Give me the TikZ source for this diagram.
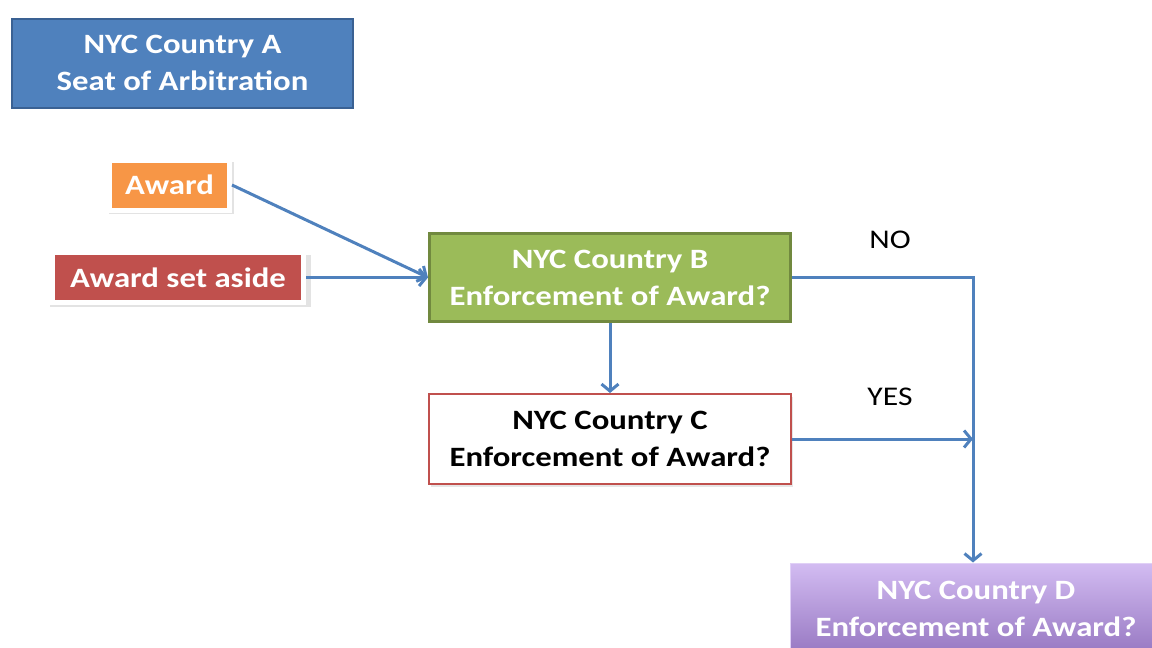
\documentclass[tikz,border=0pt]{standalone}
\usepackage{fontspec}
\setmainfont[FakeStretch=1.17]{Carlito}
\usetikzlibrary{arrows.meta,positioning,shadows}
\definecolor{seatblue}{HTML}{4F81BD}
\definecolor{seatrim}{HTML}{3A6193}
\definecolor{awardorange}{HTML}{F79646}
\definecolor{asidered}{HTML}{C0504D}
\definecolor{nycgreen}{HTML}{9BBB59}
\definecolor{greenrim}{HTML}{71893F}
\definecolor{purpletop}{HTML}{D3BCF2}
\definecolor{purplebot}{HTML}{9778C2}
\tikzset{
  box/.style    = {minimum width=364pt, minimum height=91pt, align=center,
                   font=\bfseries\fontsize{28}{37}\selectfont},
  tag/.style    = {draw=white, line width=5pt, text=white, minimum height=50pt,
                   font=\bfseries\fontsize{28}{34}\selectfont,
                   drop shadow={shadow scale=1.04, shadow xshift=2pt, shadow yshift=-3pt,
                                opacity=0.22}},
  flow/.style   = {line width=3pt, seatblue, -{Straight Barb[length=7pt,width=17pt,line width=3pt]}},
  answer/.style = {font=\fontsize{27}{32}\selectfont},
}
\begin{document}
\begin{tikzpicture}[x=1pt,y=-1pt]
  \useasboundingbox (0,0) rectangle (1152,648);
  \clip (0,0) rectangle (1152,648);
  % seat of arbitration
  \node[box, minimum width=341pt, minimum height=89pt, fill=seatblue, draw=seatrim,
        line width=2pt, text=white] (seat) at (182.5,63)
        {NYC Country A\\Seat of Arbitration};
  % awards
  \node[tag, fill=awardorange, minimum width=120pt] (award) at (169.5,185) {Award};
  \node[tag, fill=asidered, minimum width=251pt] (aside) at (178,277.5) {Award set aside};
  % enforcing countries
  \node[box, fill=nycgreen, draw=greenrim, line width=3pt, minimum width=361pt,
        minimum height=88pt, text=white] (cb) at (610,277.5)
        {NYC Country B\\Enforcement of Award?};
  \node[box, fill=white, draw=asidered, line width=2pt, minimum width=362pt,
        minimum height=90pt, text=black,
        drop shadow={shadow xshift=1.5pt, shadow yshift=-3pt, opacity=0.2}] (cc) at (610,439)
        {NYC Country C\\Enforcement of Award?};
  \node[box, top color=purpletop, bottom color=purplebot, draw=purpletop!70!white,
        line width=1pt, text=white, minimum width=372pt] (cd) at (976,608.5)
        {NYC Country D\\Enforcement of Award?};
  \coordinate (turn) at (973,277.5);
  % connectors
  \draw[flow] (award.east) -- (cb.west);
  \draw[flow] (aside.east) -- (cb.west);
  \draw[flow] (cb.south) -- (cc.north);
  \draw[flow] (cb.east) -- (turn) -- (turn |- cd.north);
  \draw[flow] (cc.east) -- (cc.east -| turn);
  \node[answer] (no) at (890,240) {NO};
  \node[answer] (yes) at (890,397) {YES};
\end{tikzpicture}
\end{document}
